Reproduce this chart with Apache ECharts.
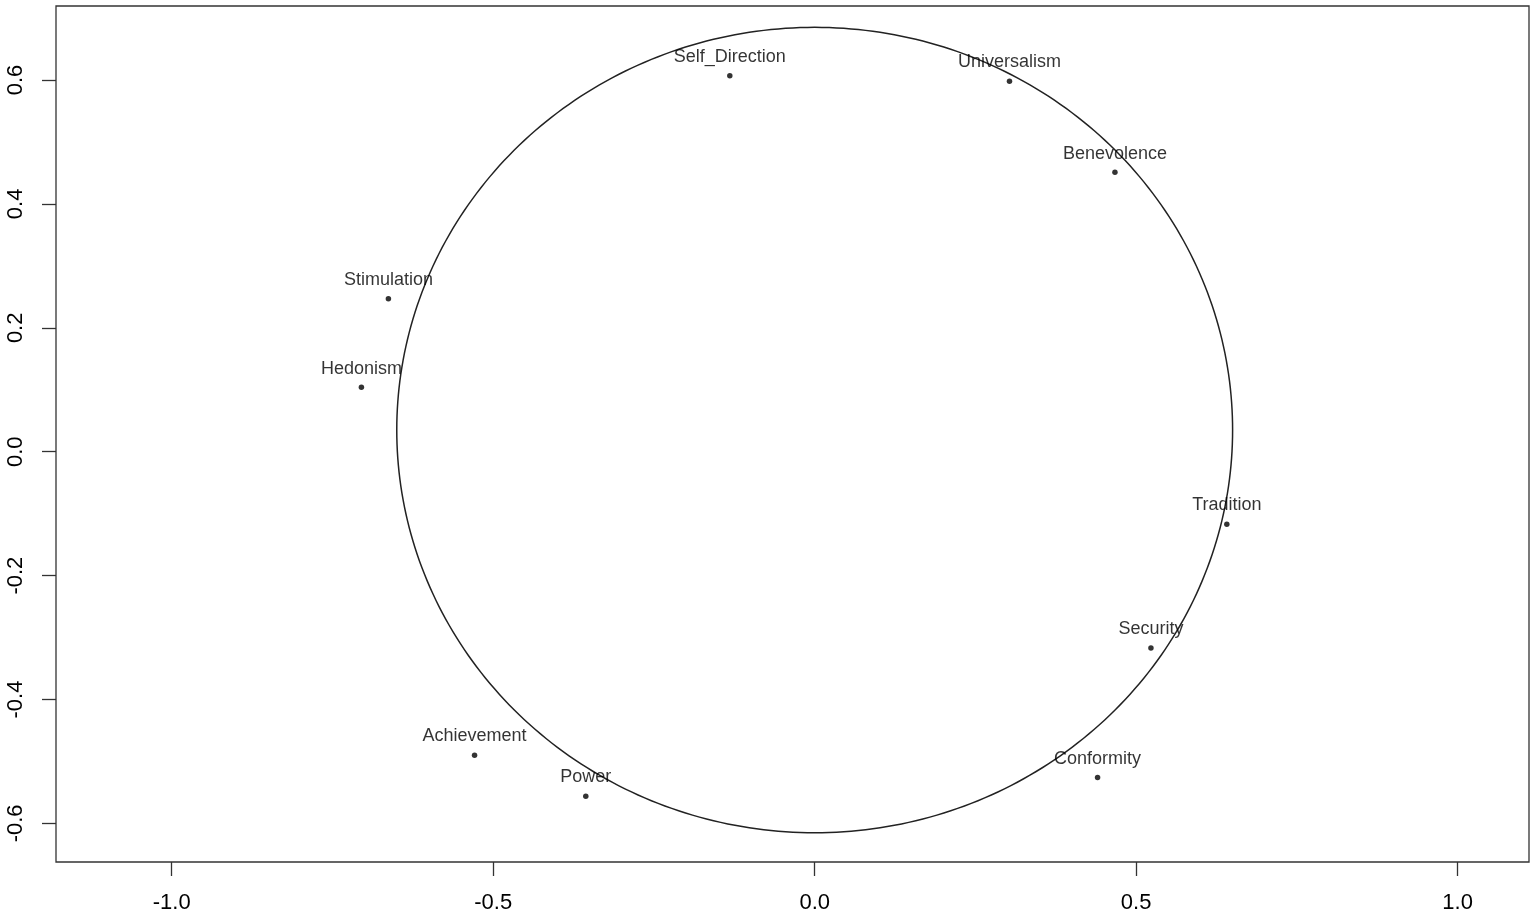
<!DOCTYPE html>
<html>
<head>
<meta charset="utf-8">
<script src="https://cdn.jsdelivr.net/npm/echarts@6/dist/echarts.min.js"></script>
<style>
html,body{margin:0;padding:0;background:#fff;}
#chart{width:1535px;height:917px;}
</style>
</head>
<body>
<div id="chart"></div>
<script>
// Data
const labels = ['Self_Direction','Universalism','Benevolence','Stimulation','Hedonism','Tradition','Security','Conformity','Achievement','Power'];
const xValues = [-0.132, 0.303, 0.467, -0.663, -0.705, 0.641, 0.523, 0.440, -0.529, -0.356];
const yValues = [0.607, 0.598, 0.451, 0.247, 0.104, -0.117, -0.317, -0.526, -0.490, -0.556];
const xTicks = [-1.0, -0.5, 0.0, 0.5, 1.0];
const yTicks = [-0.6, -0.4, -0.2, 0.0, 0.2, 0.4, 0.6];
const circleCenter = [0, 0.035];
const circleRadius = [0.65];

const pts = labels.map((n, i) => [xValues[i], yValues[i], n]);
const font = '"Liberation Sans", Arial, Helvetica, sans-serif';

const chart = echarts.init(document.getElementById('chart'), null, {renderer: 'canvas'});
chart.setOption({
  animation: false,
  backgroundColor: '#ffffff',
  grid: {left: 56, right: 6, top: 6, bottom: 55, show: true, borderColor: '#333', borderWidth: 1.3, backgroundColor: 'transparent'},
  xAxis: {
    type: 'value', min: -1.18, max: 1.111,
    axisLine: {show: false, onZero: false},
    splitLine: {show: false},
    axisTick: {show: true, length: 14, lineStyle: {color: '#333', width: 1.3},
      customValues: xTicks},
    axisLabel: {margin: 30, fontSize: 22, color: '#000', fontFamily: font,
      customValues: xTicks,
      formatter: v => v.toFixed(1)}
  },
  yAxis: {
    type: 'value', min: -0.6623, max: 0.7195,
    axisLine: {show: false, onZero: false},
    splitLine: {show: false},
    axisTick: {show: true, length: 14, lineStyle: {color: '#333', width: 1.3},
      customValues: yTicks},
    axisLabel: {margin: 29, fontSize: 22, color: '#000', fontFamily: font, rotate: 90,
      customValues: yTicks,
      formatter: v => v.toFixed(1)}
  },
  series: [
    {
      type: 'custom',
      data: [[circleCenter[0], circleCenter[1], circleRadius[0]]],
      renderItem: function (params, api) {
        const cx = api.value(0), cy = api.value(1), r = api.value(2);
        const points = [];
        const N = 360;
        for (let k = 0; k <= N; k++) {
          const a = 2 * Math.PI * k / N;
          points.push(api.coord([cx + r * Math.cos(a), cy + r * Math.sin(a)]));
        }
        return {
          type: 'polygon',
          shape: {points: points},
          style: {fill: 'none', stroke: '#222', lineWidth: 1.5}
        };
      },
      silent: true,
      z: 1
    },
    {
      type: 'scatter',
      data: pts,
      symbol: 'circle',
      symbolSize: 5.5,
      itemStyle: {color: '#000'},
      label: {
        show: true,
        position: 'top',
        distance: 7,
        formatter: p => p.data[2],
        fontSize: 18,
        color: '#000',
        fontFamily: font
      },
      z: 2
    }
  ]
});
</script>
</body>
</html>
